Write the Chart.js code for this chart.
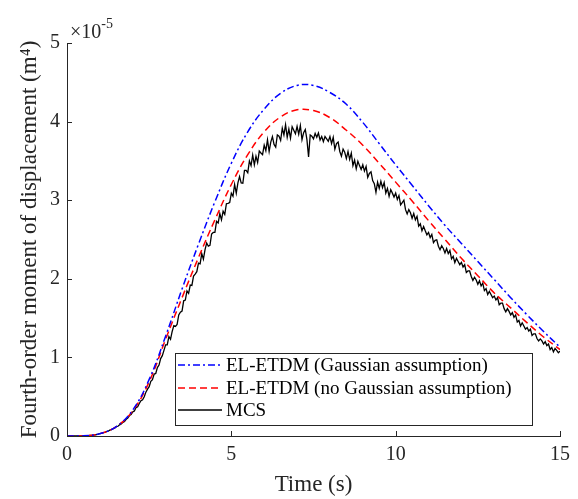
<!DOCTYPE html>
<html>
<head>
<meta charset="utf-8">
<script src="https://cdn.jsdelivr.net/npm/chart.js@4"></script>
<style>
  html, body { margin: 0; padding: 0; background: #fff; }
</style>
</head>
<body>
<canvas id="momentChart" width="578" height="499"></canvas>
<script>
// fourth-order moment of displacement, values in units of 1e-5 m^4
var timeSmooth = [0, 0.5, 1, 1.5, 2, 2.5, 3, 3.5, 4, 4.5, 5, 5.5, 6, 6.5, 7, 7.5,
  8, 8.5, 9, 9.5, 10, 10.5, 11, 11.5, 12, 12.5, 13, 13.5, 14, 14.5, 15];

var gaussianVals = [0, 0.002, 0.03, 0.12, 0.33, 0.72, 1.27, 1.87, 2.44, 2.98, 3.47, 3.87, 4.16, 4.36, 4.46, 4.46,
  4.37, 4.22, 3.99, 3.72, 3.45, 3.19, 2.93, 2.68, 2.45, 2.22, 1.99, 1.76, 1.54, 1.33, 1.13];

var noGaussianVals = [0, 0.002, 0.03, 0.12, 0.32, 0.69, 1.23, 1.76, 2.27, 2.75, 3.20, 3.58, 3.87, 4.06, 4.15, 4.14,
  4.05, 3.89, 3.70, 3.47, 3.23, 2.99, 2.74, 2.50, 2.26, 2.04, 1.82, 1.63, 1.44, 1.26, 1.10];

// MCS samples every 0.05 s from t = 0, one row per second
var mcsStep = 0.05;
var mcsVals = [
  0, 0, 0, 0, 0, 0.0005, 0.001, 0.001, 0.002, 0.002, 0.002, 0.003, 0.004, 0.005, 0.007, 0.009, 0.012, 0.015, 0.019, 0.024,
  0.03, 0.034, 0.042, 0.046, 0.056, 0.061, 0.074, 0.080, 0.093, 0.101, 0.118, 0.124, 0.142, 0.153, 0.174, 0.186, 0.213, 0.228, 0.26, 0.273,
  0.306, 0.319, 0.362, 0.372, 0.414, 0.449, 0.46, 0.50, 0.558, 0.597, 0.628, 0.696, 0.716, 0.785, 0.796, 0.871, 0.902, 0.985, 1.022, 1.09,
  1.16, 1.16, 1.265, 1.23, 1.33, 1.405, 1.395, 1.42, 1.54, 1.575, 1.59, 1.72, 1.73, 1.845, 1.815, 1.92, 1.915, 2.035, 2.06, 2.09,
  2.20, 2.19, 2.32, 2.25, 2.37, 2.455, 2.415, 2.425, 2.57, 2.59, 2.59, 2.73, 2.71, 2.83, 2.75, 2.86, 2.82, 2.955, 2.96, 2.97,
  3.09, 3.05, 3.20, 3.09, 3.22, 3.30, 3.22, 3.215, 3.38, 3.38, 3.35, 3.50, 3.44, 3.575, 3.45, 3.56, 3.48, 3.625, 3.60, 3.58,
  3.70, 3.63, 3.77, 3.62, 3.74, 3.81, 3.71, 3.675, 3.83, 3.815, 3.76, 3.915, 3.83, 3.96, 3.80, 3.905, 3.79, 3.935, 3.89, 3.845,
  3.94, 3.84, 3.95, 3.77, 3.86, 3.90, 3.77, 3.55, 3.83, 3.815, 3.78, 3.85, 3.80, 3.855, 3.765, 3.81, 3.745, 3.81, 3.78, 3.75,
  3.81, 3.72, 3.80, 3.65, 3.72, 3.74, 3.62, 3.56, 3.65, 3.61, 3.53, 3.62, 3.52, 3.60, 3.44, 3.51, 3.40, 3.495, 3.44, 3.39,
  3.45, 3.37, 3.43, 3.29, 3.34, 3.36, 3.25, 3.21, 3.10, 3.23, 3.15, 3.24, 3.16, 3.225, 3.09, 3.15, 3.05, 3.135, 3.09, 3.04,
  3.09, 3.01, 3.06, 2.94, 2.97, 3.00, 2.88, 2.825, 2.88, 2.84, 2.77, 2.83, 2.75, 2.795, 2.67, 2.70, 2.61, 2.665, 2.61, 2.56,
  2.59, 2.525, 2.565, 2.46, 2.49, 2.495, 2.415, 2.37, 2.42, 2.385, 2.33, 2.385, 2.32, 2.36, 2.255, 2.285, 2.205, 2.26, 2.22, 2.18,
  2.21, 2.15, 2.18, 2.08, 2.10, 2.10, 2.03, 1.98, 2.02, 1.985, 1.93, 1.975, 1.91, 1.945, 1.85, 1.875, 1.80, 1.84, 1.80, 1.76,
  1.78, 1.73, 1.76, 1.67, 1.69, 1.69, 1.62, 1.58, 1.62, 1.585, 1.54, 1.57, 1.51, 1.54, 1.45, 1.47, 1.40, 1.44, 1.40, 1.36,
  1.38, 1.335, 1.36, 1.28, 1.30, 1.30, 1.24, 1.21, 1.235, 1.21, 1.17, 1.20, 1.15, 1.17, 1.10, 1.125, 1.07, 1.115, 1.09, 1.06,
  1.08];

var xTicks = [0, 5, 10, 15];
var yTicks = [0, 1, 2, 3, 4, 5];
var seriesLabels = ['EL-ETDM (Gaussian assumption)', 'EL-ETDM (no Gaussian assumption)', 'MCS'];

var serif = '"Liberation Serif", "Times New Roman", serif';
var axisColor = '#262626';

function toPoints(xs, ys) {
  var pts = [];
  for (var i = 0; i < ys.length; i++) {
    pts.push({ x: xs[i], y: ys[i] });
  }
  return pts;
}

var mcsTime = [];
for (var i = 0; i < mcsVals.length; i++) {
  mcsTime.push(Math.round(i * mcsStep * 100) / 100);
}

var blueDash = [7, 3, 2, 3];
var redDash = [7, 4];

var extrasPlugin = {
  id: 'extras',
  afterDatasetsDraw: function(chart) {
    var ctx = chart.ctx;
    var xs = chart.scales.x;
    var ys = chart.scales.y;
    var area = chart.chartArea;
    ctx.save();

    // inward tick marks
    ctx.strokeStyle = axisColor;
    ctx.lineWidth = 1;
    ctx.beginPath();
    xTicks.forEach(function(v) {
      var px = Math.round(xs.getPixelForValue(v)) + 0.5;
      ctx.moveTo(px, area.bottom);
      ctx.lineTo(px, area.bottom - 5);
    });
    yTicks.forEach(function(v) {
      var py = Math.round(ys.getPixelForValue(v)) + 0.5;
      ctx.moveTo(area.left, py);
      ctx.lineTo(area.left + 5, py);
    });
    ctx.stroke();

    // exponent label
    ctx.fillStyle = axisColor;
    ctx.textBaseline = 'alphabetic';
    ctx.textAlign = 'left';
    ctx.font = '20px ' + serif;
    ctx.fillText('\u00d710', 70, 38);
    var w = ctx.measureText('\u00d710').width;
    ctx.font = '14px ' + serif;
    ctx.fillText('-5', 70 + w, 28);

    // legend box
    var bx = 175.5, by = 353.5, bw = 357, bh = 72;
    ctx.fillStyle = '#fff';
    ctx.fillRect(bx, by, bw, bh);
    ctx.strokeStyle = axisColor;
    ctx.lineWidth = 1;
    ctx.strokeRect(bx, by, bw, bh);

    var rows = [365, 388, 410];
    var ds = chart.data.datasets;
    ctx.font = '19px ' + serif;
    ctx.textBaseline = 'middle';
    for (var k = 0; k < ds.length; k++) {
      ctx.beginPath();
      ctx.setLineDash(ds[k].borderDash || []);
      ctx.strokeStyle = ds[k].borderColor;
      ctx.lineWidth = ds[k].borderWidth;
      ctx.moveTo(178, rows[k]);
      ctx.lineTo(222, rows[k]);
      ctx.stroke();
      ctx.setLineDash([]);
      ctx.fillStyle = '#000';
      ctx.fillText(seriesLabels[k], 226, rows[k] + 1);
    }
    ctx.restore();
  }
};

var ctx = document.getElementById('momentChart').getContext('2d');

var momentChart = new Chart(ctx, {
  type: 'line',
  data: {
    datasets: [{
      label: seriesLabels[0],
      data: toPoints(timeSmooth, gaussianVals),
      borderColor: '#0000ff',
      borderWidth: 1.5,
      borderDash: blueDash,
      tension: 0.4,
      pointRadius: 0,
      fill: false
    }, {
      label: seriesLabels[1],
      data: toPoints(timeSmooth, noGaussianVals),
      borderColor: '#ff0000',
      borderWidth: 1.5,
      borderDash: redDash,
      tension: 0.4,
      pointRadius: 0,
      fill: false
    }, {
      label: seriesLabels[2],
      data: toPoints(mcsTime, mcsVals),
      borderColor: '#000000',
      borderWidth: 1.3,
      tension: 0,
      pointRadius: 0,
      fill: false
    }]
  },
  options: {
    responsive: false,
    animation: false,
    devicePixelRatio: 1,
    layout: { padding: { left: 0, right: 18, top: 43, bottom: 0 } },
    plugins: {
      legend: { display: false },
      tooltip: { enabled: false }
    },
    scales: {
      x: {
        type: 'linear',
        min: 0,
        max: 15,
        afterBuildTicks: function(scale) {
          scale.ticks = xTicks.map(function(v) { return { value: v }; });
        },
        afterFit: function(scale) { scale.height = 63; },
        grid: { display: false, drawTicks: false },
        border: { display: true, color: axisColor, width: 1 },
        ticks: {
          color: axisColor,
          padding: 7,
          maxRotation: 0,
          font: { family: serif, size: 20 }
        },
        title: {
          display: true,
          text: 'Time (s)',
          color: axisColor,
          padding: { top: 0, bottom: 0 },
          font: { family: serif, size: 23 }
        }
      },
      y: {
        type: 'linear',
        min: 0,
        max: 5,
        afterBuildTicks: function(scale) {
          scale.ticks = yTicks.map(function(v) { return { value: v }; });
        },
        afterFit: function(scale) { scale.width = 67; },
        grid: { display: false, drawTicks: false },
        border: { display: true, color: axisColor, width: 1 },
        ticks: {
          color: axisColor,
          padding: 7,
          font: { family: serif, size: 20 }
        },
        title: {
          display: true,
          text: 'Fourth-order moment of displacement (m\u2074)',
          color: axisColor,
          padding: { top: 16, bottom: 0 },
          font: { family: serif, size: 23 }
        }
      }
    }
  },
  plugins: [extrasPlugin]
});
</script>
</body>
</html>
